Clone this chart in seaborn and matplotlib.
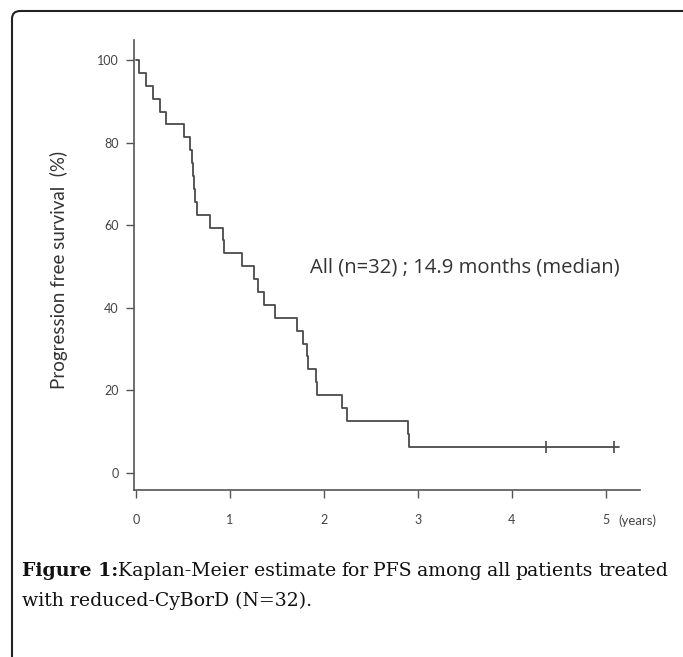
import numpy as np
import pandas as pd
import matplotlib
matplotlib.use("Agg")
import matplotlib.pyplot as plt
import seaborn as sns
from matplotlib.patches import FancyBboxPatch

# ---- data ----
n_patients = 32
event_times = [0.03, 0.11, 0.18, 0.26, 0.32, 0.51, 0.58, 0.596, 0.61, 0.62,
               0.633, 0.645, 0.79, 0.93, 0.94, 1.13, 1.26, 1.30, 1.36, 1.48,
               1.71, 1.78, 1.82, 1.83, 1.92, 1.93, 2.19, 2.25, 2.89, 2.90]
censor_times = [4.36, 5.09]
followup_end = 5.14
x_ticks = [0, 1, 2, 3, 4, 5]
y_ticks = [0, 20, 40, 60, 80, 100]
annotation = "All (n=32) ; 14.9 months (median)"
y_label = "Progression free survival  (%)"
x_unit = "(years)"
caption_bold = "Figure 1:"
caption_line1 = "Kaplan-Meier estimate for PFS among all patients treated"
caption_line2 = "with reduced-CyBorD (N=32)."

# ---- Kaplan-Meier estimate ----
at_risk = n_patients
surv = 100.0
step_x, step_y = [0.0], [100.0]
for t in sorted(event_times):
    surv *= (1 - 1 / at_risk)
    at_risk -= 1
    step_x.append(t)
    step_y.append(surv)
step_x.append(followup_end)
step_y.append(surv)
km = pd.DataFrame({"time": step_x, "survival": step_y})
cens = pd.DataFrame({"time": censor_times, "survival": [surv] * len(censor_times)})

# ---- figure ----
sns.set_theme(style="white")
plt.rcParams["font.family"] = ["Lato", "DejaVu Sans"]
W, H = 683, 657
fig = plt.figure(figsize=(W / 100, H / 100), dpi=100)
fig.patch.set_facecolor("white")

# axes placement: x 0 -> px 136, 5 -> px 606 ; y 0 -> px 472.5, 100 -> px 60
ax = fig.add_axes([134.1 / W, (H - 490) / H, 505.7 / W, 450 / H])
ax.set_facecolor("white")

line_col = "#4a4a4a"
sns.lineplot(data=km, x="time", y="survival", drawstyle="steps-post",
             estimator=None, sort=False, color=line_col, linewidth=1.3, ax=ax)
sns.scatterplot(data=cens, x="time", y="survival", marker="|", s=70,
                color=line_col, linewidth=1.2, ax=ax, zorder=3)

ax.set_xlim(-0.02, 5.36)
ax.set_ylim(-4.24, 104.85)
ax.set_xticks(x_ticks)
ax.set_yticks(y_ticks)
ax.set_xticklabels([str(v) for v in x_ticks])
ax.set_yticklabels([str(v) for v in y_ticks])
ax.set_xlabel("")
ax.set_ylabel(y_label, fontsize=13.5, color="#333333", va="center")
ax.yaxis.set_label_coords(-0.148, 0.489)

for s in ["top", "right"]:
    ax.spines[s].set_visible(False)
for s in ["left", "bottom"]:
    ax.spines[s].set_color("#555555")
    ax.spines[s].set_linewidth(1.2)
ax.tick_params(axis="y", direction="out", length=6, width=1, color="#555555",
               labelsize=9, labelcolor="#444444", pad=5, left=True)
ax.tick_params(axis="x", direction="out", length=5.5, width=1, color="#555555",
               labelsize=9, labelcolor="#444444", pad=12, bottom=True)

ax.text(5.13, -(521 - 490) / 450, x_unit, transform=ax.get_xaxis_transform(),
        ha="left", va="center", fontsize=9.5, color="#444444")

ax.text(1.85, 49.6, annotation, ha="left", va="center", fontsize=14.6,
        color="#333333", family=["Open Sans", "DejaVu Sans"])

# ---- caption ----
cap_font = dict(family="DejaVu Serif", fontsize=13.6, color="#111111")
fig.canvas.draw()
renderer = fig.canvas.get_renderer()
x0 = 22 / W
y1 = 1 - 571 / H
y2 = 1 - 601 / H
tb = fig.text(x0, y1, caption_bold, ha="left", va="center", weight="bold", **cap_font)
bb = tb.get_window_extent(renderer)
# justify line 1 across to px 668
words = caption_line1.split(" ")
start_px = bb.x1
end_px = 668
widths = []
for w_ in words:
    t_ = fig.text(0, 0, w_, **cap_font)
    widths.append(t_.get_window_extent(renderer).width)
    t_.remove()
gap = (end_px - start_px - sum(widths)) / (len(words) - 1)
cur = start_px
for w_, wd in zip(words, widths):
    fig.text(cur / W, y1, w_, ha="left", va="center", **cap_font)
    cur += wd + gap
fig.text(x0, y2, caption_line2, ha="left", va="center", **cap_font)

# ---- frame ----
frame = FancyBboxPatch((12 / W, -0.2), 1.5, 1 - 11 / H + 0.2,
                       boxstyle="round,pad=0,rounding_size=0.012",
                       transform=fig.transFigure, fill=False,
                       edgecolor="#222222", linewidth=1.5)
fig.patches.append(frame)

fig.savefig("out.png", dpi=100, facecolor="white")
